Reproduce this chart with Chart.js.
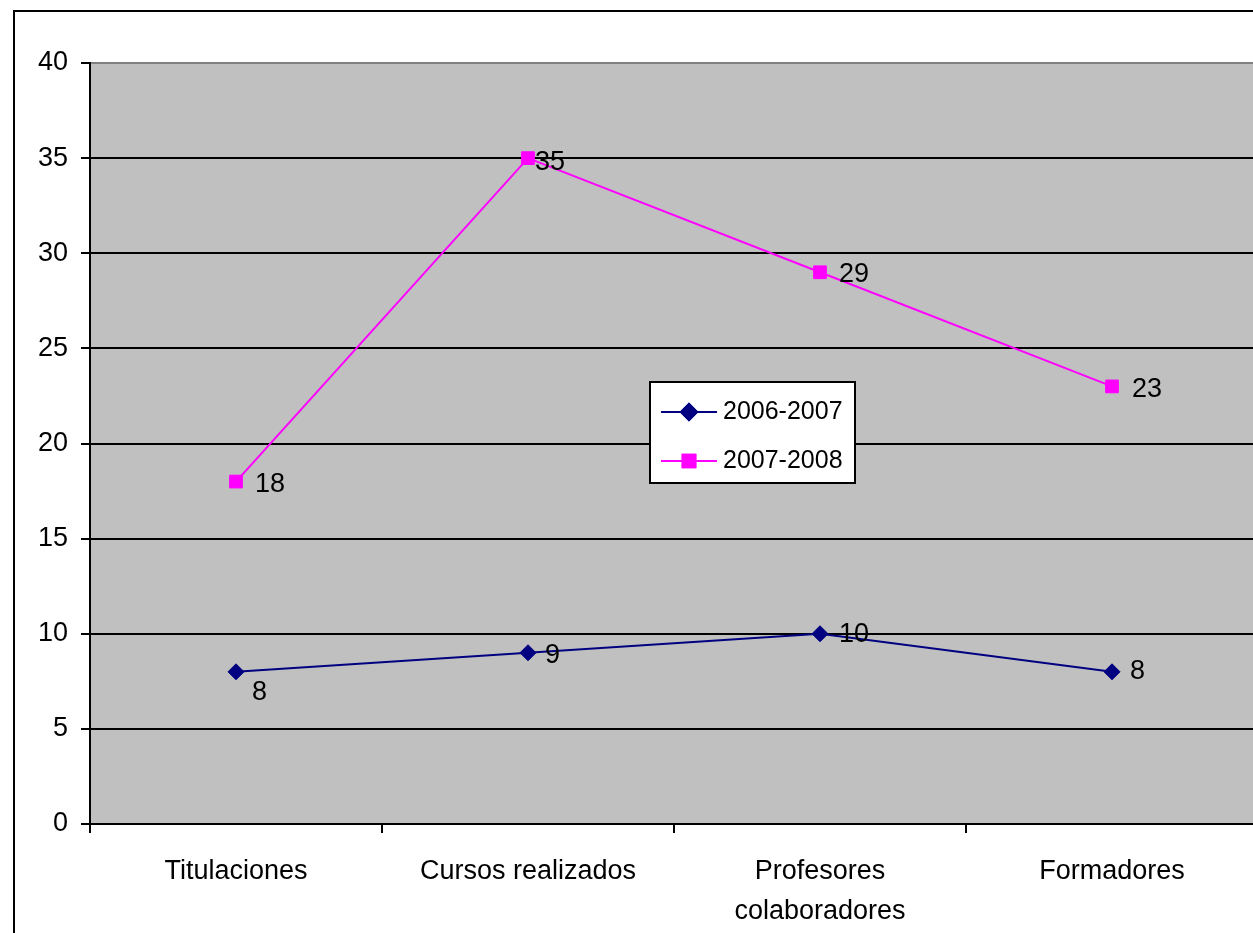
<!DOCTYPE html>
<html>
<head>
<meta charset="utf-8">
<script src="https://cdn.jsdelivr.net/npm/chart.js@4.4.1/dist/chart.umd.min.js"></script>
<style>
html, body { margin: 0; padding: 0; background: #fff; overflow: hidden; width: 1253px; height: 933px; }
#c { position: absolute; left: 0; top: 0; }
#frame { position: absolute; left: 13px; top: 10px; width: 1300px; height: 1000px;
         border-left: 2px solid #000; border-top: 2px solid #000; pointer-events: none; }
</style>
</head>
<body>
<canvas id="c" width="1268" height="933"></canvas>
<div id="frame"></div>
<script>
const categories = ['Titulaciones', 'Cursos realizados', ['Profesores', 'colaboradores'], 'Formadores'];
const series2006 = [8, 9, 10, 8];
const series2008 = [18, 35, 29, 23];
const seriesNames = ['2006-2007', '2007-2008'];
const yTicks = [0, 5, 10, 15, 20, 25, 30, 35, 40];

const FONT = '"Liberation Sans", Arial, sans-serif';

// grey plot background
const plotBg = {
    id: 'plotBg',
    beforeDraw(chart) {
        const a = chart.chartArea;
        const ctx = chart.ctx;
        ctx.save();
        ctx.fillStyle = '#c0c0c0';
        ctx.fillRect(a.left, a.top, a.right - a.left, a.bottom - a.top);
        ctx.restore();
    }
};

// value labels next to each point
const valueLabels = {
    id: 'valueLabels',
    afterDatasetsDraw(chart, args, opts) {
        const ctx = chart.ctx;
        ctx.save();
        ctx.font = '27px ' + FONT;
        ctx.fillStyle = '#000';
        ctx.textAlign = 'left';
        ctx.textBaseline = 'middle';
        chart.data.datasets.forEach((ds, i) => {
            chart.getDatasetMeta(i).data.forEach((pt, j) => {
                const off = opts.offsets[i][j];
                ctx.fillText(String(ds.data[j]), pt.x + off[0], pt.y + off[1]);
            });
        });
        ctx.restore();
    }
};

// boxed legend inside the plot
const boxLegend = {
    id: 'boxLegend',
    afterDraw(chart, args, opts) {
        const ctx = chart.ctx;
        ctx.save();
        ctx.fillStyle = '#fff';
        ctx.fillRect(opts.x, opts.y, opts.w, opts.h);
        ctx.strokeStyle = '#000';
        ctx.lineWidth = 2;
        ctx.strokeRect(opts.x, opts.y, opts.w, opts.h);
        ctx.font = '25px ' + FONT;
        ctx.textBaseline = 'middle';
        ctx.textAlign = 'left';
        chart.data.datasets.forEach((ds, i) => {
            const y = opts.y + opts.rowY[i];
            const x0 = opts.x + 11;
            ctx.strokeStyle = ds.borderColor;
            ctx.lineWidth = 2;
            ctx.beginPath();
            ctx.moveTo(x0, y);
            ctx.lineTo(x0 + 56, y);
            ctx.stroke();
            Chart.helpers.drawPoint(ctx, {
                pointStyle: ds.pointStyle,
                radius: ds.pointRadius,
                borderWidth: 1
            }, x0 + 28, y);
            ctx.fillStyle = ds.backgroundColor;
            ctx.strokeStyle = ds.borderColor;
            ctx.fill();
            ctx.stroke();
            ctx.fillStyle = '#000';
            ctx.fillText(ds.label, x0 + 62, y);
        });
        ctx.restore();
    }
};

new Chart(document.getElementById('c'), {
    type: 'line',
    data: {
        labels: categories,
        datasets: [
            {
                label: seriesNames[0],
                data: series2006,
                borderColor: '#000080',
                backgroundColor: '#000080',
                borderWidth: 2,
                pointStyle: 'rectRot',
                pointRadius: 8,
                pointBorderWidth: 1,
                tension: 0
            },
            {
                label: seriesNames[1],
                data: series2008,
                borderColor: '#ff00ff',
                backgroundColor: '#ff00ff',
                borderWidth: 2,
                pointStyle: 'rect',
                pointRadius: 9,
                pointBorderWidth: 1,
                tension: 0
            }
        ]
    },
    options: {
        responsive: false,
        animation: false,
        devicePixelRatio: 1,
        layout: { padding: { top: 63, left: 0, right: 4, bottom: 0 } },
        plugins: {
            legend: { display: false },
            tooltip: { enabled: false },
            valueLabels: {
                offsets: [
                    [[16, 21], [17, 3], [19, 1], [18, 0]],
                    [[19, 3], [7, 4], [19, 2], [20, 3]]
                ]
            },
            boxLegend: { x: 650, y: 382, w: 205, h: 101, rowY: [30, 79] }
        },
        scales: {
            x: {
                offset: true,
                afterFit: s => { s.height = 109; },
                grid: { drawOnChartArea: false, offset: true, color: '#000', lineWidth: 2, tickLength: 9 },
                border: { display: true, color: '#000', width: 2 },
                ticks: { color: '#000', padding: 19, font: { family: FONT, size: 27, lineHeight: 1.48 } }
            },
            y: {
                min: 0,
                max: 40,
                afterFit: s => { s.width = 90; },
                afterBuildTicks: s => { s.ticks = yTicks.map(v => ({ value: v })); },
                grid: {
                    color: c => (c.tick && c.tick.value === 40 ? '#808080' : '#000'),
                    lineWidth: 2,
                    tickLength: 9,
                    tickColor: '#000'
                },
                border: { display: true, color: '#000', width: 2 },
                ticks: { color: '#000', padding: 13, font: { family: FONT, size: 27 } }
            }
        }
    },
    plugins: [plotBg, valueLabels, boxLegend]
});
</script>
</body>
</html>
